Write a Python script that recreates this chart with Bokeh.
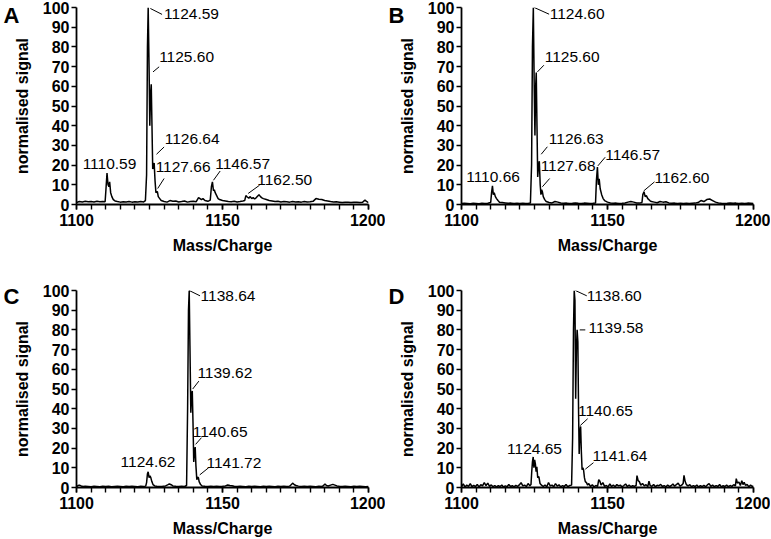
from bokeh.plotting import figure
from bokeh.layouts import column, row
from bokeh.models import Range1d, FixedTicker, Label, LinearAxis
from bokeh.embed import file_html
from bokeh.resources import INLINE

# ---------------- data (m/z, normalised signal) ----------------
SPEC_A = [(1100,1.0),(1101,1.5),(1102,1.3),(1103,1.6),(1104,1.4),(1105,1.5),(1106,1.3),(1107,1.6),(1108,1.4),(1109,1.5),
          (1109.8,1.4),(1110.1,8),(1110.45,16),(1110.8,10),(1111.1,9),(1111.35,11.5),(1111.7,6),(1112.1,4),(1112.6,2.5),(1113.2,1.8),
          (1114,1.5),(1115,1.2),(1116,1.4),(1117,1.3),(1118,1.5),(1119,1.2),(1120,1.4),(1121,1.3),(1122,1.5),(1123,1.3),
          (1123.6,2),(1124.0,15),(1124.3,80),(1124.55,100),(1124.85,70),(1125.1,40),(1125.35,55),(1125.6,61),(1125.85,40),(1126.1,18),
          (1126.35,20),(1126.6,21),(1126.9,12),(1127.2,6),(1127.45,6.5),(1127.7,6.5),(1128.0,4),(1128.5,3),(1129,2),(1130,1.5),
          (1131,1.2),(1132,2),(1133,1.6),(1134,1.8),(1135,1.3),(1136,1.5),(1137,1.8),(1138,1.2),(1139,1.5),(1140,1.6),
          (1141,1.4),(1141.8,3.5),(1142.3,3),(1142.8,2.5),(1143.3,3),(1144,2),(1145,1.6),(1145.8,2.2),(1146.2,9),(1146.55,11.5),
          (1146.9,7),(1147.2,7.5),(1147.5,6),(1148,4.5),(1148.5,3),(1149,2.5),(1150,2),(1151,1.8),(1152,1.5),(1153,1.4),
          (1154,1.6),(1155,1.3),(1156,1.5),(1157,1.8),(1157.6,2),(1158,4.5),(1158.5,3.8),(1159,3.2),(1159.5,4),(1160,3),
          (1160.5,3.5),(1161,2.8),(1161.5,3.4),(1162,4.2),(1162.5,5),(1163,4),(1163.5,3.4),(1164,3),(1165,2.5),(1166,2),
          (1167,1.8),(1168,1.5),(1169,1.6),(1170,1.3),(1171,1.5),(1172,1.4),(1173,1.2),(1174,1.5),(1175,1.3),(1176,1.4),
          (1177,1.2),(1178,1.5),(1179,1.3),(1180,1.4),(1181,1.6),(1182,3),(1183,2.7),(1184,2.5),(1185,2.0),(1186,1.8),
          (1187,1.5),(1188,1.3),(1189,1.4),(1190,1.2),(1191,1.0),(1192,1.2),(1193,1.1),(1194,1.0),(1195,1.2),(1196,1.1),
          (1197,1.0),(1198,1.2),(1198.8,2.2),(1199.3,1.6),(1200,1.0)]

SPEC_B = [(1100,0.5),(1101,0.6),(1102,0.5),(1103,0.4),(1104,0.6),(1105,0.5),(1106,0.4),(1107,0.6),(1108,0.5),(1109,0.6),
          (1110.0,1),(1110.3,6),(1110.6,9.5),(1110.9,5),(1111.2,6),(1111.6,4),(1112,3),(1112.5,2),(1113,1.2),(1114,1),
          (1115,0.8),(1116,0.6),(1117,0.7),(1118,0.5),(1119,0.6),(1120,0.5),(1121,0.6),(1122,0.5),(1123,0.6),(1123.6,0.8),
          (1124.0,20),(1124.3,80),(1124.6,100),(1124.9,60),(1125.15,35),(1125.4,60),(1125.6,67),(1125.85,40),(1126.1,14),(1126.4,20),
          (1126.65,22),(1126.95,10),(1127.2,5),(1127.45,7.5),(1127.7,6.5),(1128.0,4),(1128.5,2.5),(1129,1.5),(1130,1),(1131,0.8),
          (1132,1.5),(1133,1.2),(1134,0.8),(1135,0.6),(1136,0.7),(1137,0.5),(1138,0.6),(1139,0.8),(1140,0.6),(1141,0.5),
          (1142,0.7),(1143,0.6),(1144,0.5),(1145,0.6),(1145.9,0.8),(1146.2,12),(1146.55,19),(1146.85,10),(1147.15,13),(1147.5,8),
          (1148,5),(1148.5,3),(1149,2),(1150,1.2),(1151,0.8),(1152,0.6),(1153,0.7),(1154,0.5),(1155,0.6),(1156,0.8),
          (1157,1.2),(1158,1.5),(1159,1.2),(1160,0.8),(1161,0.7),(1161.8,1),(1162.1,5),(1162.5,6.5),(1162.9,4),(1163.3,4.5),
          (1163.8,3),(1164.5,2),(1165,1.5),(1166,1.2),(1167,0.9),(1168,1.5),(1169,1.2),(1170,1.4),(1171,0.8),(1172,0.6),
          (1173,0.7),(1174,0.5),(1175,0.6),(1176,0.5),(1177,0.6),(1178,0.5),(1179,0.6),(1180,0.7),(1181,1),(1182,2),
          (1183,1.5),(1184,2.5),(1185,2.8),(1186,2),(1187,1.2),(1188,0.8),(1189,0.6),(1190,0.5),(1191,0.6),(1192,0.8),
          (1193,0.6),(1194,0.7),(1195,0.5),(1196,0.6),(1197,0.5),(1198,0.7),(1199,0.6),(1200,0.5)]

SPEC_C = [(1100,0.5),(1100.5,1.0),(1101,1.2),(1101.6,0.8),(1102.2,0.5),(1103,0.6),(1104,0.5),(1105,0.4),(1106,0.6),(1107,0.5),
          (1108,0.4),(1109,0.6),(1110,0.5),(1111,0.6),(1112,0.4),(1113,0.5),(1114,0.6),(1115,0.5),(1116,0.4),(1117,0.6),
          (1118,0.5),(1119,0.6),(1120,0.5),(1121,0.4),(1122,0.6),(1123,0.5),(1123.7,0.7),(1124.0,2.5),(1124.3,7.0),(1124.55,8.0),
          (1124.85,5.0),(1125.15,6.0),(1125.45,5.0),(1125.8,3.0),(1126.2,1.5),(1126.8,0.8),(1127.5,0.6),(1128.5,0.5),(1129.5,0.6),(1130.5,0.8),
          (1131.2,1.3),(1131.8,1.8),(1132.4,1.4),(1133,0.8),(1134,0.6),(1135,0.5),(1136,0.6),(1137,0.5),(1137.7,1.0),(1138.05,40),
          (1138.35,90),(1138.6,100),(1138.85,72),(1139.15,38),(1139.4,47),(1139.65,49),(1139.9,33),(1140.15,13),(1140.4,18),(1140.65,20.5),
          (1140.9,11),(1141.2,4),(1141.5,5.2),(1141.75,5),(1142.0,3),(1142.5,1.5),(1143,0.8),(1144,0.6),(1145,0.5),(1146,0.6),
          (1147,0.5),(1148,0.6),(1149,0.5),(1150,0.6),(1151,0.8),(1151.8,1.3),(1152.5,1.0),(1153.2,0.9),(1154,0.6),(1155,0.5),
          (1156,0.6),(1157,0.5),(1158,0.4),(1159,0.6),(1160,0.5),(1161,0.6),(1162,0.5),(1163,0.4),(1164,0.6),(1165,0.5),
          (1166,0.6),(1167,0.5),(1168,0.4),(1169,0.6),(1170,0.5),(1171,0.6),(1172,0.5),(1173,0.7),(1173.6,1.5),(1174.1,2.2),
          (1174.6,1.4),(1175.2,1.0),(1176,0.7),(1177,0.5),(1178,0.6),(1179,0.5),(1180,0.6),(1181,0.5),(1182,0.4),(1183,0.6),
          (1184,0.5),(1184.6,1.0),(1185.1,1.8),(1185.6,1.0),(1186.2,0.8),(1187,1.2),(1187.8,1.6),(1188.5,1.2),(1189.2,0.8),(1190,0.6),
          (1191,0.5),(1192,0.6),(1193,0.5),(1194,0.4),(1195,0.6),(1196,0.5),(1197,0.6),(1198,0.5),(1199,0.4),(1200,0.5)]

SPEC_D = [(1100,0.5),(1100.6,1.8),(1101.2,0.3),(1101.8,1.2),(1102.4,0.6),(1103,1.9),(1103.6,0.4),(1104.2,1.1),(1104.8,0.5),(1105.4,1.6),
          (1106,0.3),(1106.6,1.4),(1107.2,0.8),(1107.8,2.5),(1108.4,1.0),(1109,2.2),(1109.6,0.6),(1110.2,1.3),(1110.8,0.4),(1111.4,1.0),
          (1112,0.3),(1112.6,0.9),(1113.2,0.5),(1113.8,1.2),(1114.4,0.3),(1115,0.8),(1115.6,0.4),(1116.2,1.5),(1116.8,0.5),(1117.4,0.9),
          (1118,0.3),(1118.6,1.1),(1119.2,0.6),(1119.8,1.3),(1120.4,2.5),(1121,0.8),(1121.6,1.2),(1122.2,0.5),(1122.8,2.0),(1123.4,0.9),
          (1123.8,1.5),(1124.05,8),(1124.3,13),(1124.55,15.5),(1124.8,10),(1125.05,14),(1125.3,12),(1125.55,8),(1125.8,10.5),(1126.1,5),
          (1126.5,5.5),(1126.9,2),(1127.4,1.2),(1128,0.5),(1128.6,1.3),(1129.2,0.4),(1129.8,2.5),(1130.4,0.8),(1131,1.2),(1131.6,0.4),
          (1132.2,2.0),(1132.8,0.7),(1133.4,1.4),(1134,0.3),(1134.6,1.0),(1135.2,0.5),(1135.8,1.6),(1136.4,0.4),(1137,1.0),(1137.7,1.2),
          (1138.05,25),(1138.35,80),(1138.6,100),(1138.85,95),(1139.1,45),(1139.35,70),(1139.6,80),(1139.85,74),(1140.1,38),(1140.3,17),
          (1140.55,28),(1140.8,31),(1141.05,18),(1141.3,9),(1141.55,10),(1141.8,9),(1142.1,5),(1142.4,3),(1142.8,2.5),(1143.2,1.2),
          (1143.6,2.0),(1144.2,0.5),(1144.8,1.4),(1145.4,0.3),(1146,1.0),(1146.6,0.6),(1147.0,4.0),(1147.4,3.2),(1147.8,1.2),(1148.4,2.5),
          (1149,0.6),(1149.6,1.0),(1150.2,0.3),(1150.8,1.8),(1151.4,0.5),(1152,1.3),(1152.6,0.4),(1153.2,1.5),(1153.8,0.8),(1154.4,1.2),
          (1155,0.3),(1155.6,1.0),(1156.2,1.8),(1156.8,0.5),(1157.4,1.2),(1158,0.4),(1158.6,0.9),(1159.2,0.6),(1159.8,1.0),(1160.1,6.0),
          (1160.5,3.5),(1160.9,3.0),(1161.4,1.2),(1162,2.0),(1162.6,0.8),(1163.2,1.4),(1163.8,0.5),(1164.2,3.2),(1164.6,1.0),(1165.2,0.6),
          (1165.8,1.5),(1166.4,0.4),(1167,1.1),(1167.6,0.9),(1168.2,1.6),(1168.8,0.5),(1169.4,1.0),(1170,0.3),(1170.6,1.3),(1171.2,0.5),
          (1171.8,0.9),(1172.4,1.8),(1173,0.6),(1173.6,1.5),(1174.2,2.2),(1174.8,0.7),(1175.4,1.2),(1175.9,2.0),(1176.2,6.2),(1176.6,3.0),
          (1177,1.5),(1177.6,0.8),(1178.2,1.4),(1178.8,0.4),(1179.4,1.0),(1180,0.5),(1180.6,1.2),(1181.2,0.3),(1181.8,0.9),(1182.4,0.5),
          (1183,1.1),(1183.6,0.4),(1184.2,1.3),(1184.8,2.0),(1185.4,0.6),(1186,1.2),(1186.6,0.4),(1187.2,1.0),(1187.8,0.5),(1188.4,1.5),
          (1189,0.3),(1189.6,0.9),(1190.2,0.5),(1190.8,1.2),(1191.4,0.4),(1192,1.0),(1192.6,0.6),(1193.2,1.4),(1193.8,0.8),(1194.1,4.5),
          (1194.5,2.2),(1195,2.8),(1195.5,1.0),(1196,3.5),(1196.4,1.5),(1196.8,2.6),(1197.3,1.0),(1197.8,1.6),(1198.4,0.4),(1199,1.2),
          (1199.6,0.5),(1200,0.8)]

PEAK_LABELS_A = ["1124.59", "1125.60", "1126.64", "1127.66", "1110.59", "1146.57", "1162.50"]
PEAK_LABELS_B = ["1124.60", "1125.60", "1126.63", "1127.68", "1110.66", "1146.57", "1162.60"]
PEAK_LABELS_C = ["1138.64", "1139.62", "1140.65", "1141.72", "1124.62"]
PEAK_LABELS_D = ["1138.60", "1139.58", "1140.65", "1141.64", "1124.65"]

X_TICKS = [1100, 1150, 1200]
Y_TICKS = [0, 10, 20, 30, 40, 50, 60, 70, 80, 90, 100]

# ---------------- layout of annotations (text anchor, leader line) ----------------
POS_A = [(1130.0, 96.6, "left", (1125.3, 99.5, 1129.3, 96.5)),
         (1128.3, 75.0, "left", (1126.2, 67.3, 1128.3, 69.9)),
         (1130.2, 33.0, "left", (1127.4, 25.5, 1130.0, 29.2)),
         (1127.1, 19.0, "left", (1127.8, 8.1, 1130.0, 13.2)),
         (1111.3, 20.8, "center", None),
         (1147.5, 20.8, "left", (1146.9, 12.3, 1149.2, 17.0)),
         (1161.9, 12.3, "left", (1158.8, 5.6, 1162.7, 9.8))]
POS_B = [(1130.2, 96.6, "left", (1124.9, 100.0, 1130.0, 96.6)),
         (1128.5, 75.0, "left", (1126.0, 67.3, 1128.2, 70.7)),
         (1129.9, 33.5, "left", (1127.3, 25.5, 1129.4, 29.3)),
         (1127.1, 19.6, "left", (1127.7, 9.0, 1130.2, 13.2)),
         (1110.8, 14.0, "center", None),
         (1149.2, 25.0, "left", (1146.7, 19.6, 1149.2, 24.0)),
         (1166.1, 13.2, "left", (1162.4, 6.9, 1166.1, 11.5))]
POS_C = [(1142.5, 97.0, "left", (1138.6, 100.0, 1142.3, 97.3)),
         (1141.4, 58.2, "left", (1139.8, 50.0, 1141.9, 54.0)),
         (1139.8, 28.3, "left", (1140.8, 21.9, 1142.8, 25.3)),
         (1144.5, 12.6, "left", (1142.2, 6.4, 1145.3, 10.1)),
         (1124.5, 13.0, "center", None)]
POS_D = [(1142.9, 97.3, "left", (1139.0, 100.0, 1142.9, 97.3)),
         (1143.5, 81.0, "left", (1140.5, 80.0, 1142.4, 80.0)),
         (1139.9, 38.8, "left", (1140.7, 31.5, 1143.2, 34.9)),
         (1144.9, 16.0, "left", (1142.4, 9.3, 1145.2, 12.6)),
         (1125.0, 19.4, "center", None)]

FONT = "Liberation Sans"


def make_panel(letter, spec, labels, pos, width, height, bl, br, bt, bb, letter_at):
    p = figure(width=width, height=height, x_range=Range1d(1100, 1200), y_range=Range1d(0, 100),
               output_backend="svg", toolbar_location=None,
               min_border_left=bl, min_border_right=br, min_border_top=bt, min_border_bottom=bb)
    p.outline_line_color = None
    p.xgrid.grid_line_color = None
    p.ygrid.grid_line_color = None

    mz = [a for a, b in spec]
    sig = [b for a, b in spec]
    p.line(mz, sig, line_color="black", line_width=1.5)

    x0 = [q[3][0] for q in pos if q[3]]
    y0 = [q[3][1] for q in pos if q[3]]
    x1 = [q[3][2] for q in pos if q[3]]
    y1 = [q[3][3] for q in pos if q[3]]
    p.segment(x0, y0, x1, y1, line_color="black", line_width=1)

    for lab, q in zip(labels, pos):
        p.add_layout(Label(x=q[0], y=q[1], text=lab, text_align=q[2], text_baseline="middle",
                           text_font=FONT, text_font_size="15.5px", text_color="black"))

    for ax in (p.xaxis[0], p.yaxis[0]):
        ax.axis_line_width = 1.8
        ax.axis_line_color = "black"
        ax.major_tick_line_width = 1.6
        ax.major_tick_line_color = "black"
        ax.minor_tick_line_width = 1.4
        ax.minor_tick_line_color = "black"
        ax.major_tick_in = 0
        ax.major_tick_out = 5
        ax.minor_tick_in = 0
        ax.minor_tick_out = 5
        ax.major_label_text_font = FONT
        ax.major_label_text_font_size = "16px"
        ax.major_label_text_font_style = "bold"
        ax.major_label_text_color = "black"
        ax.axis_label_text_font = FONT
        ax.axis_label_text_font_size = "16px"
        ax.axis_label_text_font_style = "bold"
        ax.axis_label_text_color = "black"

    p.xaxis.ticker = FixedTicker(ticks=X_TICKS, minor_ticks=list(range(1100, 1201, 5)))
    p.yaxis.ticker = FixedTicker(ticks=Y_TICKS, minor_ticks=[])
    p.xaxis.major_label_standoff = 4
    p.yaxis.major_label_standoff = 2
    p.xaxis.axis_label = "Mass/Charge"
    p.yaxis.axis_label = "normalised signal"
    p.xaxis.axis_label_standoff = 8
    p.yaxis.axis_label_standoff = 9

    # panel letter, drawn as the single label of an outer, invisible axis
    lax = LinearAxis(ticker=FixedTicker(ticks=[letter_at], minor_ticks=[]),
                     major_label_overrides={letter_at: letter},
                     axis_line_color=None, major_tick_line_color=None, minor_tick_line_color=None,
                     major_tick_out=0, major_tick_in=0, minor_tick_out=0, minor_tick_in=0,
                     major_label_standoff=-9,
                     major_label_text_font=FONT, major_label_text_font_size="22px",
                     major_label_text_font_style="bold", major_label_text_color="black")
    p.add_layout(lax, "left")
    return p


# top row: frame 7 -> 204 ; bottom row: frame 290 -> 487
pa = make_panel("A", SPEC_A, PEAK_LABELS_A, POS_A, 385, 270, 73, 17, 7, 66, 96)
pb = make_panel("B", SPEC_B, PEAK_LABELS_B, POS_B, 385, 270, 73, 17, 7, 66, 96)
pc = make_panel("C", SPEC_C, PEAK_LABELS_C, POS_C, 385, 269, 73, 17, 20, 52, 97)
pd = make_panel("D", SPEC_D, PEAK_LABELS_D, POS_D, 385, 269, 73, 17, 20, 52, 97)

layout = column(row(pa, pb), row(pc, pd))
open("out.html", "w").write(file_html(layout, INLINE))
